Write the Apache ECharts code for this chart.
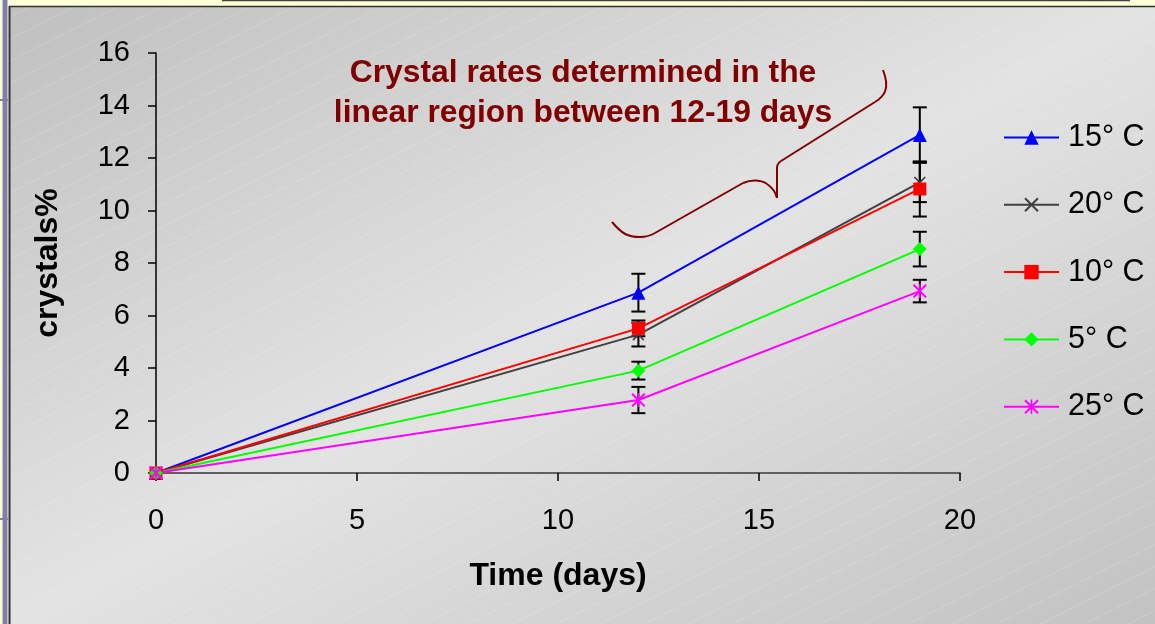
<!DOCTYPE html>
<html>
<head>
<meta charset="utf-8">
<script src="https://cdn.jsdelivr.net/npm/echarts@6/dist/echarts.min.js"></script>
<style>
html,body{margin:0;padding:0;background:#ffffd8;}
#chart{width:1155px;height:624px;}
</style>
</head>
<body>
<div id="chart"></div>
<script>
// ---- data ----
const days = [0, 12, 19];
const seriesNames = ['15° C', '20° C', '10° C', '5° C', '25° C'];
const values15 = [0, 6.87, 12.88];
const values20 = [0, 5.27, 11.07];
const values10 = [0, 5.51, 10.82];
const values5 = [0, 3.90, 8.53];
const values25 = [0, 2.78, 6.93];
// error bar half-widths
const err15 = [0, 0.72, 1.05];
const err20 = [0, 0.45, 0.75];
const err10 = [0, 0.30, 1.05];
const err5 = [0, 0.34, 0.66];
const err25 = [0, 0.50, 0.43];
const xTicks = [0, 5, 10, 15, 20];
const yTicks = [0, 2, 4, 6, 8, 10, 12, 14, 16];
const annotationLines = ['Crystal rates determined in the', 'linear region between 12-19 days'];
const xTitle = 'Time (days)';
const yTitle = 'crystals%';

const FONT = '"Liberation Sans", Arial, sans-serif';
const xPath = 'path://M0,1 L1,0 L5,4 L9,0 L10,1 L6,5 L10,9 L9,10 L5,6 L1,10 L0,9 L4,5 Z';
const starPath = 'path://M0,1 L1,0 L5,4 L9,0 L10,1 L6,5 L10,9 L9,10 L5,6 L1,10 L0,9 L4,5 Z M4.45,0 L5.55,0 L5.55,10 L4.45,10 Z';

const seriesDefs = [
  {name: seriesNames[0], vals: values15, err: err15, color: '#0000ff', symbol: 'triangle', size: 14},
  {name: seriesNames[1], vals: values20, err: err20, color: '#404040', symbol: xPath, size: 12},
  {name: seriesNames[2], vals: values10, err: err10, color: '#ff0000', symbol: 'rect', size: 13},
  {name: seriesNames[3], vals: values5, err: err5, color: '#00ff00', symbol: 'diamond', size: 14},
  {name: seriesNames[4], vals: values25, err: err25, color: '#ff00ff', symbol: starPath, size: 14}
];

// hatch pattern
const pc = document.createElement('canvas');
pc.width = 44; pc.height = 22;
const pctx = pc.getContext('2d');
pctx.strokeStyle = 'rgba(250,250,215,0.35)';
pctx.lineWidth = 1;
pctx.setLineDash([2, 2]);
pctx.beginPath();
pctx.moveTo(0, 22); pctx.lineTo(44, 0);
pctx.stroke();

const chart = echarts.init(document.getElementById('chart'), null, {renderer: 'canvas'});

const series = [];
seriesDefs.forEach(function (d) {
  const errData = days.map(function (x, i) { return [x, d.vals[i] - d.err[i], d.vals[i] + d.err[i]]; });
  series.push({
    type: 'custom',
    z: 1,
    silent: true,
    data: errData,
    encode: {x: 0, y: [1, 2]},
    renderItem: function (params, api) {
      const lo = api.value(1), hi = api.value(2);
      if (hi - lo < 1e-6) return null;
      const p1 = api.coord([api.value(0), hi]);
      const p2 = api.coord([api.value(0), lo]);
      const hw = 7;
      const st = {stroke: '#000', lineWidth: 2};
      return {
        type: 'group',
        children: [
          {type: 'line', shape: {x1: p1[0], y1: p1[1], x2: p2[0], y2: p2[1]}, style: st},
          {type: 'line', shape: {x1: p1[0] - hw, y1: p1[1], x2: p1[0] + hw, y2: p1[1]}, style: st},
          {type: 'line', shape: {x1: p2[0] - hw, y1: p2[1], x2: p2[0] + hw, y2: p2[1]}, style: st}
        ]
      };
    }
  });
});
seriesDefs.forEach(function (d) {
  series.push({
    name: d.name,
    type: 'line',
    z: 3,
    data: days.map(function (x, i) { return [x, d.vals[i]]; }),
    symbol: d.symbol,
    symbolSize: d.size,
    showAllSymbol: true,
    lineStyle: {color: d.color, width: 2},
    itemStyle: {color: d.color, borderWidth: 0},
    emphasis: {disabled: true}
  });
});

const braceStyle = {stroke: '#800000', lineWidth: 2, fill: 'none'};
function bz(x1, y1, c1x, c1y, c2x, c2y, x2, y2) {
  return {type: 'bezierCurve', z: 10, silent: true,
    shape: {x1: x1, y1: y1, cpx1: c1x, cpy1: c1y, cpx2: c2x, cpy2: c2y, x2: x2, y2: y2}, style: braceStyle};
}
function ln(x1, y1, x2, y2) {
  return {type: 'line', z: 10, silent: true, shape: {x1: x1, y1: y1, x2: x2, y2: y2}, style: braceStyle};
}

const option = {
  animation: false,
  backgroundColor: '#ffffd8',
  grid: {left: 156, right: 195, top: 53, bottom: 151, outerBoundsMode: 'none'},
  xAxis: {
    type: 'value', min: xTicks[0], max: xTicks[xTicks.length - 1], interval: 5,
    name: xTitle, nameLocation: 'middle', nameGap: 87,
    nameTextStyle: {fontFamily: FONT, fontSize: 32, fontWeight: 'bold', color: '#000'},
    axisLine: {show: true, onZero: false, lineStyle: {color: '#606060', width: 2}},
    axisTick: {show: true, length: 8, lineStyle: {color: '#000', width: 1.5}},
    axisLabel: {fontFamily: FONT, fontSize: 29, color: '#000', margin: 33},
    splitLine: {show: false}
  },
  yAxis: {
    type: 'value', min: yTicks[0], max: yTicks[yTicks.length - 1], interval: 2,
    name: yTitle, nameLocation: 'middle', nameGap: 92, nameRotate: 90,
    nameTextStyle: {fontFamily: FONT, fontSize: 32, fontWeight: 'bold', color: '#000'},
    axisLine: {show: true, onZero: false, lineStyle: {color: '#000', width: 1.5}},
    axisTick: {show: true, length: 8, lineStyle: {color: '#000', width: 1.5}},
    axisLabel: {fontFamily: FONT, fontSize: 29, color: '#000', margin: 26},
    splitLine: {show: false}
  },
  legend: {
    data: seriesNames,
    orient: 'vertical',
    left: 998,
    top: 117,
    itemWidth: 55,
    itemHeight: 18,
    itemGap: 36.3,
    textStyle: {fontFamily: FONT, fontSize: 30.5, color: '#000', lineHeight: 30, padding: [0, 0, 0, 4]},
    selectedMode: false
  },
  graphic: [
    {type: 'rect', z: -20, silent: true, shape: {x: 9, y: 7, width: 1146, height: 617},
      style: {fill: {type: 'linear', x: 9, y: 7, x2: 524, y2: 964, global: true,
        colorStops: [{offset: 0, color: '#c0c0c0'}, {offset: 0.5, color: '#e3e3e3'}, {offset: 1, color: '#c2c2c2'}]}}},
    {type: 'rect', z: -19, silent: true, shape: {x: 9, y: 7, width: 1146, height: 617},
      style: {fill: {image: pc, repeat: 'repeat'}}},
    {type: 'rect', z: -18, silent: true, shape: {x: 2.5, y: 0, width: 5, height: 624}, style: {fill: '#8080b0'}},
    {type: 'rect', z: -18, silent: true, shape: {x: 0, y: 99, width: 8, height: 2}, style: {fill: '#8080b0'}},
    {type: 'rect', z: -18, silent: true, shape: {x: 0, y: 518, width: 8, height: 2}, style: {fill: '#8080b0'}},
    {type: 'line', z: -17, silent: true, shape: {x1: 9.5, y1: 6, x2: 9.5, y2: 624}, style: {stroke: '#303030', lineWidth: 2}},
    {type: 'line', z: -17, silent: true, shape: {x1: 9, y1: 6.5, x2: 1155, y2: 6.5}, style: {stroke: '#303030', lineWidth: 1.5}},
    {type: 'line', z: -17, silent: true, shape: {x1: 222, y1: 0.5, x2: 1130, y2: 0.5}, style: {stroke: '#404040', lineWidth: 1.5}},
    {type: 'text', z: 10, silent: true,
      style: {x: 583, y: 93, text: annotationLines.join('\n'), align: 'center', verticalAlign: 'middle',
        lineHeight: 40, font: 'bold 31.8px ' + FONT, fill: '#800000'}},
    bz(612, 222, 622, 234, 628, 237, 640, 237),
    bz(640, 237, 646, 237, 650, 236, 655, 233),
    ln(655, 233, 743, 183),
    bz(743, 183, 750, 180, 760, 179, 767, 184),
    bz(767, 184, 773, 188, 776, 194, 777, 198),
    ln(777, 198, 777, 168),
    bz(777, 168, 777, 165, 778, 163, 781, 161),
    ln(781, 161, 875, 102),
    bz(875, 102, 885, 96, 890, 88, 883, 70)
  ],
  series: series
};
chart.setOption(option);
</script>
</body>
</html>
